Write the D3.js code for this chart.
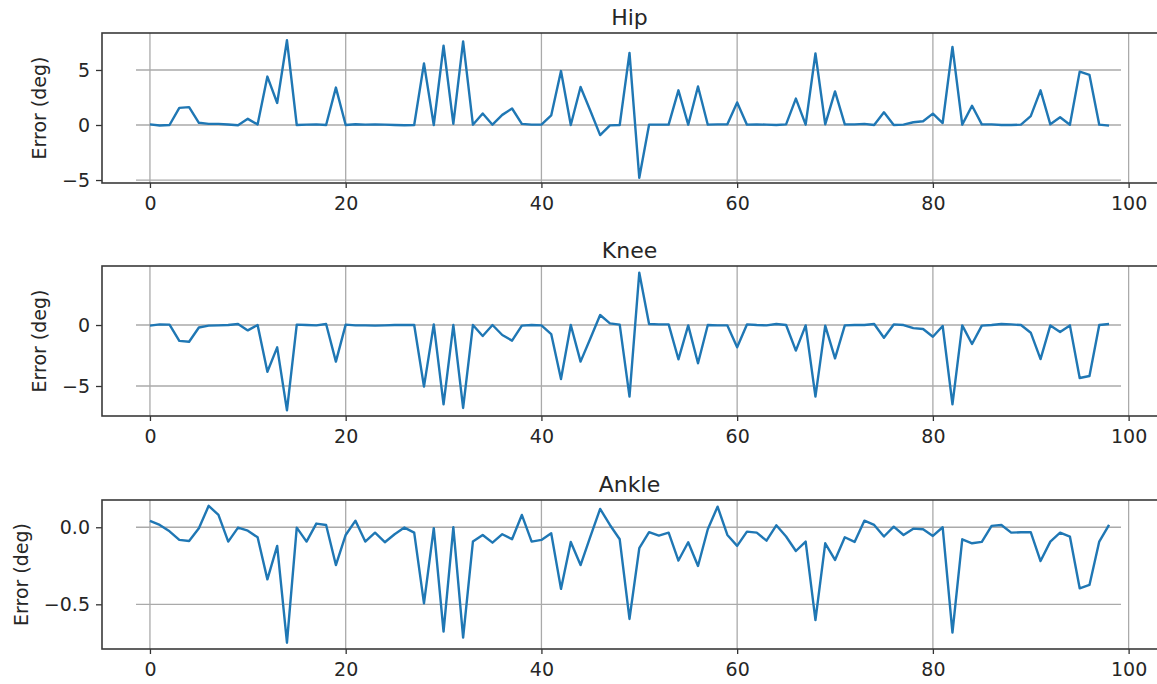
<!DOCTYPE html>
<html>
<head>
<meta charset="utf-8">
<script src="https://cdn.jsdelivr.net/npm/d3@7"></script>
<style>
  html, body { margin: 0; padding: 0; background: #fff; }
  svg { display: block; }
  text { font-family: "DejaVu Sans", sans-serif; fill: #262626; }
</style>
</head>
<body>
<svg id="chart" width="1157" height="684"></svg>
<script>
// Joint-angle tracking error per sample (degrees)
const steps = d3.range(0, 99);

const hipError = [
  0.06, -0.05, 0.0, 1.56, 1.62, 0.2, 0.1, 0.1, 0.05, -0.02,
  0.56, 0.05, 4.4, 2.0, 7.7, 0.0, 0.03, 0.06, 0.0, 3.4,
  0.0, 0.07, 0.03, 0.06, 0.03, 0.0, -0.02, 0.0, 5.6, 0.0,
  7.2, 0.1, 7.6, 0.03, 1.05, 0.03, 0.92, 1.5, 0.1, 0.03,
  0.03, 0.87, 4.9, 0.0, 3.45, 1.3, -0.92, -0.03, 0.0, 6.55,
  -4.8, 0.03, 0.03, 0.03, 3.15, 0.03, 3.5, 0.03, 0.06, 0.06,
  2.05, 0.03, 0.06, 0.03, 0.0, 0.06, 2.4, 0.03, 6.5, 0.06,
  3.05, 0.06, 0.06, 0.1, 0.0, 1.15, 0.0, 0.03, 0.25, 0.34,
  1.03, 0.18, 7.1, 0.03, 1.75, 0.06, 0.06, 0.0, 0.0, 0.03,
  0.8, 3.15, 0.06, 0.7, 0.03, 4.85, 4.55, 0.03, -0.06
];

const kneeError = [
  -0.05, 0.05, 0.03, -1.3, -1.37, -0.2, -0.05, -0.03, 0.0, 0.08,
  -0.44, 0.0, -3.83, -1.83, -7.0, 0.03, 0.0, -0.03, 0.08, -3.0,
  0.03, -0.03, -0.03, -0.05, -0.03, 0.0, 0.0, 0.0, -5.05, 0.05,
  -6.5, 0.0, -6.8, 0.0, -0.9, 0.0, -0.82, -1.28, -0.05, 0.0,
  -0.03, -0.74, -4.43, 0.0, -3.0, -1.1, 0.82, 0.14, 0.03, -5.87,
  4.29, 0.08, 0.05, 0.05, -2.81, -0.03, -3.14, 0.0, -0.03, -0.03,
  -1.83, 0.05, 0.0, -0.03, 0.08, 0.0, -2.1, -0.03, -5.87, -0.05,
  -2.73, -0.03, 0.0, 0.0, 0.08, -1.04, 0.05, 0.0, -0.25, -0.33,
  -0.96, -0.08, -6.5, -0.03, -1.56, -0.05, 0.0, 0.08, 0.05, 0.0,
  -0.63, -2.79, -0.03, -0.57, -0.03, -4.34, -4.18, 0.0, 0.08
];

const ankleError = [
  0.041, 0.015, -0.026, -0.082, -0.089, -0.006, 0.139, 0.08, -0.093, -0.002,
  -0.022, -0.065, -0.338, -0.121, -0.749, -0.002, -0.093, 0.024, 0.015, -0.245,
  -0.05, 0.043, -0.093, -0.035, -0.097, -0.045, -0.002, -0.035, -0.494, -0.006,
  -0.677, 0.0, -0.716, -0.093, -0.05, -0.1, -0.045, -0.078, 0.08, -0.093,
  -0.082, -0.039, -0.4, -0.095, -0.245, -0.06, 0.119, 0.015, -0.078, -0.595,
  -0.136, -0.032, -0.054, -0.035, -0.216, -0.097, -0.251, -0.013, 0.134, -0.05,
  -0.121, -0.028, -0.035, -0.087, 0.013, -0.06, -0.154, -0.093, -0.602, -0.104,
  -0.212, -0.065, -0.095, 0.043, 0.015, -0.06, 0.004, -0.05, -0.009, -0.013,
  -0.056, 0.0, -0.684, -0.078, -0.104, -0.095, 0.009, 0.015, -0.035, -0.032,
  -0.032, -0.219, -0.093, -0.035, -0.06, -0.396, -0.374, -0.093, 0.015
];

const titles = ["Hip", "Knee", "Ankle"];
const xTicks = [0, 20, 40, 60, 80, 100];
const hipTicks = [-5, 0, 5];
const kneeTicks = [-5, 0];
const ankleTicks = [-0.5, 0.0];

const panels = [
  { title: titles[0], values: hipError,   ticks: hipTicks,   fmt: d3.format("d"),   yDomain: [-5.27, 8.36], top: 33,  bottom: 183, labelX: 40 },
  { title: titles[1], values: kneeError,  ticks: kneeTicks,  fmt: d3.format("d"),   yDomain: [-7.46, 4.84], top: 266, bottom: 416, labelX: 40 },
  { title: titles[2], values: ankleError, ticks: ankleTicks, fmt: d3.format(".1f"), yDomain: [-0.79, 0.177], top: 500, bottom: 649, labelX: 22 }
];

const svg = d3.select("#chart");
const left = 102, right = 1160;
const gridLeft = 136, gridRight = 1121;
const fontSize = 19;

const x = d3.scaleLinear().domain([-4.9, 102.9]).range([left, 1157]);

panels.forEach(p => {
  const y = d3.scaleLinear().domain(p.yDomain).range([p.bottom, p.top]);
  const g = svg.append("g");

  // grid
  g.selectAll("line.vgrid").data(xTicks).join("line")
    .attr("x1", d => x(d)).attr("x2", d => x(d))
    .attr("y1", p.top).attr("y2", p.bottom)
    .attr("stroke", "#aaaaaa").attr("stroke-width", 1.3);
  g.selectAll("line.hgrid").data(p.ticks).join("line")
    .attr("x1", gridLeft).attr("x2", gridRight)
    .attr("y1", d => y(d)).attr("y2", d => y(d))
    .attr("stroke", "#aaaaaa").attr("stroke-width", 1.3);

  // series
  const line = d3.line().x((d, i) => x(steps[i])).y(d => y(d));
  g.append("path").datum(p.values)
    .attr("fill", "none").attr("stroke", "#1f77b4")
    .attr("stroke-width", 2.4).attr("stroke-linejoin", "round")
    .attr("d", line);

  // axes
  const xAxis = d3.axisBottom(x).tickValues(xTicks).tickSize(5).tickPadding(9).tickFormat(d3.format("d"));
  const gx = g.append("g").attr("transform", `translate(0,${p.bottom})`).call(xAxis);
  gx.select(".domain").remove();
  gx.selectAll("line").attr("stroke", "#333").attr("stroke-width", 1.3);
  gx.selectAll("text").attr("font-size", fontSize).style("font-family", "DejaVu Sans").attr("fill", "#262626");

  const yAxis = d3.axisLeft(y).tickValues(p.ticks).tickSize(6).tickPadding(6)
    .tickFormat(d => p.fmt(d).replace("-", "\u2212"));
  const gy = g.append("g").attr("transform", `translate(${left},0)`).call(yAxis);
  gy.select(".domain").remove();
  gy.selectAll("line").attr("stroke", "#333").attr("stroke-width", 1.3);
  gy.selectAll("text").attr("font-size", fontSize).style("font-family", "DejaVu Sans").attr("fill", "#262626");

  // frame
  g.append("rect")
    .attr("x", left).attr("y", p.top)
    .attr("width", right - left).attr("height", p.bottom - p.top)
    .attr("fill", "none").attr("stroke", "#3a3a3a").attr("stroke-width", 1.6);

  // title
  g.append("text")
    .attr("x", (left + 1157) / 2).attr("y", p.top - 8)
    .attr("text-anchor", "middle").attr("font-size", 22)
    .text(p.title);

  // y label
  g.append("text")
    .attr("transform", `translate(${p.labelX},${(p.top + p.bottom) / 2}) rotate(-90)`)
    .attr("text-anchor", "middle").attr("dominant-baseline", "middle")
    .attr("font-size", fontSize)
    .text("Error (deg)");
});
</script>
</body>
</html>
